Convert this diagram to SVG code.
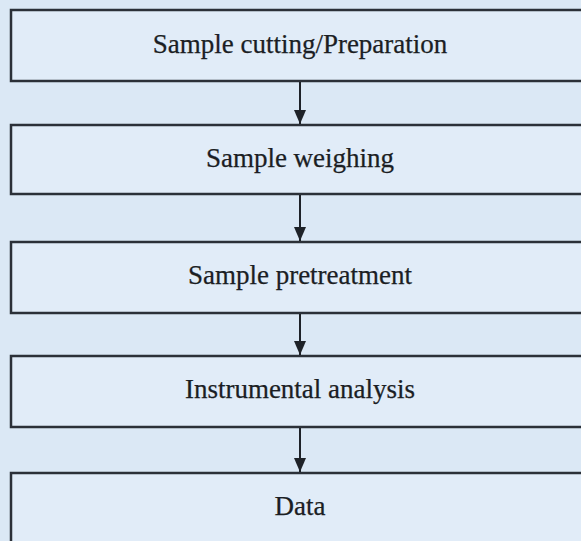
<svg xmlns="http://www.w3.org/2000/svg" width="581" height="541" viewBox="0 0 581 541">
  <defs>
    <style>
      .box { fill: #e1ecf8; stroke: #2b3038; stroke-width: 2.5; }
      .lbl { font-family: "Liberation Serif", "Times New Roman", serif; font-size: 27px; fill: #1b1e24; stroke: #1b1e24; stroke-width: 0.25; text-anchor: middle; }
      .conn { stroke: #1e2228; stroke-width: 2; fill: none; }
    </style>
    <marker id="ah" viewBox="0 0 14 12" refX="14" refY="6" markerWidth="14" markerHeight="12" markerUnits="userSpaceOnUse" orient="auto">
      <path d="M0,0 L14,6 L0,12 Z" fill="#1e2228"/>
    </marker>
  </defs>
  <rect x="0" y="0" width="581" height="541" fill="#dbe8f5"/>
  <g id="node1">
    <rect class="box" x="11" y="10" width="600" height="71"/>
    <text class="lbl" x="300" y="53">Sample cutting/Preparation</text>
  </g>
  <g id="node2">
    <rect class="box" x="11" y="125" width="600" height="69"/>
    <text class="lbl" x="300" y="167">Sample weighing</text>
  </g>
  <g id="node3">
    <rect class="box" x="11" y="242" width="600" height="71"/>
    <text class="lbl" x="300" y="284">Sample pretreatment</text>
  </g>
  <g id="node4">
    <rect class="box" x="11" y="356" width="600" height="71"/>
    <text class="lbl" x="300" y="398">Instrumental analysis</text>
  </g>
  <g id="node5">
    <rect class="box" x="11" y="473" width="600" height="100"/>
    <text class="lbl" x="300" y="515">Data</text>
  </g>
  <g id="connectors">
    <line class="conn" x1="300" y1="82" x2="300" y2="124" marker-end="url(#ah)"/>
    <line class="conn" x1="300" y1="195" x2="300" y2="241" marker-end="url(#ah)"/>
    <line class="conn" x1="300" y1="314" x2="300" y2="355" marker-end="url(#ah)"/>
    <line class="conn" x1="300" y1="428" x2="300" y2="472" marker-end="url(#ah)"/>
  </g>
</svg>
